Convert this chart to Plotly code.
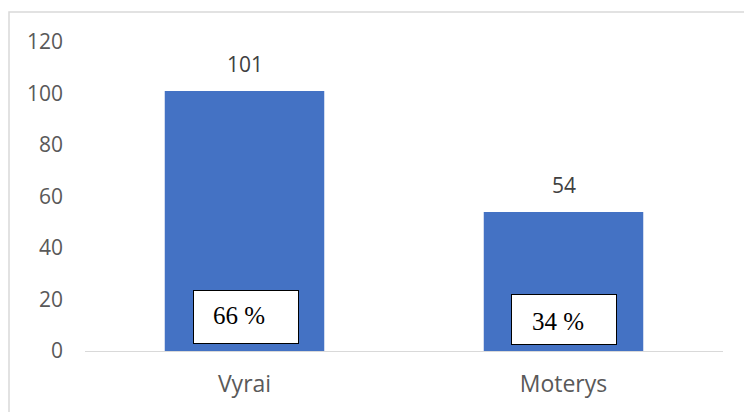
import plotly.graph_objects as go

categories = ["Vyrai", "Moterys"]
values = [101, 54]
percent_labels = ["66 %", "34 %"]
y_ticks = [0, 20, 40, 60, 80, 100, 120]

BAR = "#4472C4"
GRAY = "#595959"

fig = go.Figure()
fig.add_trace(go.Bar(
    x=categories, y=values, marker=dict(color=BAR, line=dict(width=0)),
    width=0.5, hoverinfo="skip"))

ann = []
for i, (c, v) in enumerate(zip(categories, values)):
    ann.append(dict(x=i, y=v, xref="x", yref="y", text=str(v), showarrow=False,
                    yanchor="bottom", yshift=11,
                    font=dict(family="Open Sans", size=21, color="#404040")))
# percentage boxes
box_pos = [(0.005, 13.2), (0.0, 12.2)]
text_off = [(-35, 13.6), (-34, 11.6)]
for i, p in enumerate(percent_labels):
    bx, by = box_pos[i]
    ann.append(dict(x=i + bx, y=by, xref="x", yref="y", text=" ", showarrow=False,
                    width=104, height=52 if i == 0 else 49, bgcolor="white",
                    bordercolor="black", borderwidth=1, borderpad=0,
                    xanchor="center", yanchor="middle"))
    tx, ty = text_off[i]
    ann.append(dict(x=i + bx, y=ty, xref="x", yref="y", text=p, showarrow=False,
                    xanchor="left", yanchor="middle", xshift=tx,
                    font=dict(family="Liberation Serif", size=25, color="black")))

fig.update_layout(
    width=744, height=412,
    margin=dict(l=85, r=21, t=42, b=61, autoexpand=False),
    paper_bgcolor="white", plot_bgcolor="white",
    showlegend=False, bargap=0.5,
    annotations=ann,
    shapes=[dict(type="rect", xref="paper", yref="paper",
                 x0=(9 - 85) / 638, x1=1.2, y0=-0.3, y1=(351 - 12) / 309,
                 line=dict(color="#d9d9d9", width=1.5), fillcolor="rgba(0,0,0,0)",
                 layer="below")],
    xaxis=dict(showline=True, linecolor="#d9d9d9", linewidth=1, ticks="",
               showgrid=False, tickfont=dict(family="Open Sans", size=23, color=GRAY),
               ticklabelstandoff=12, fixedrange=True, automargin=False),
    yaxis=dict(range=[0, 120], tickvals=y_ticks, showgrid=False, zeroline=False,
               showline=False, ticks="",
               tickfont=dict(family="Open Sans", size=21, color=GRAY),
               ticklabelstandoff=21, fixedrange=True, automargin=False),
)

fig.write_html("out.html", config=dict(displayModeBar=False),
               post_script="document.body.style.margin='0';document.body.style.overflow='hidden';")
